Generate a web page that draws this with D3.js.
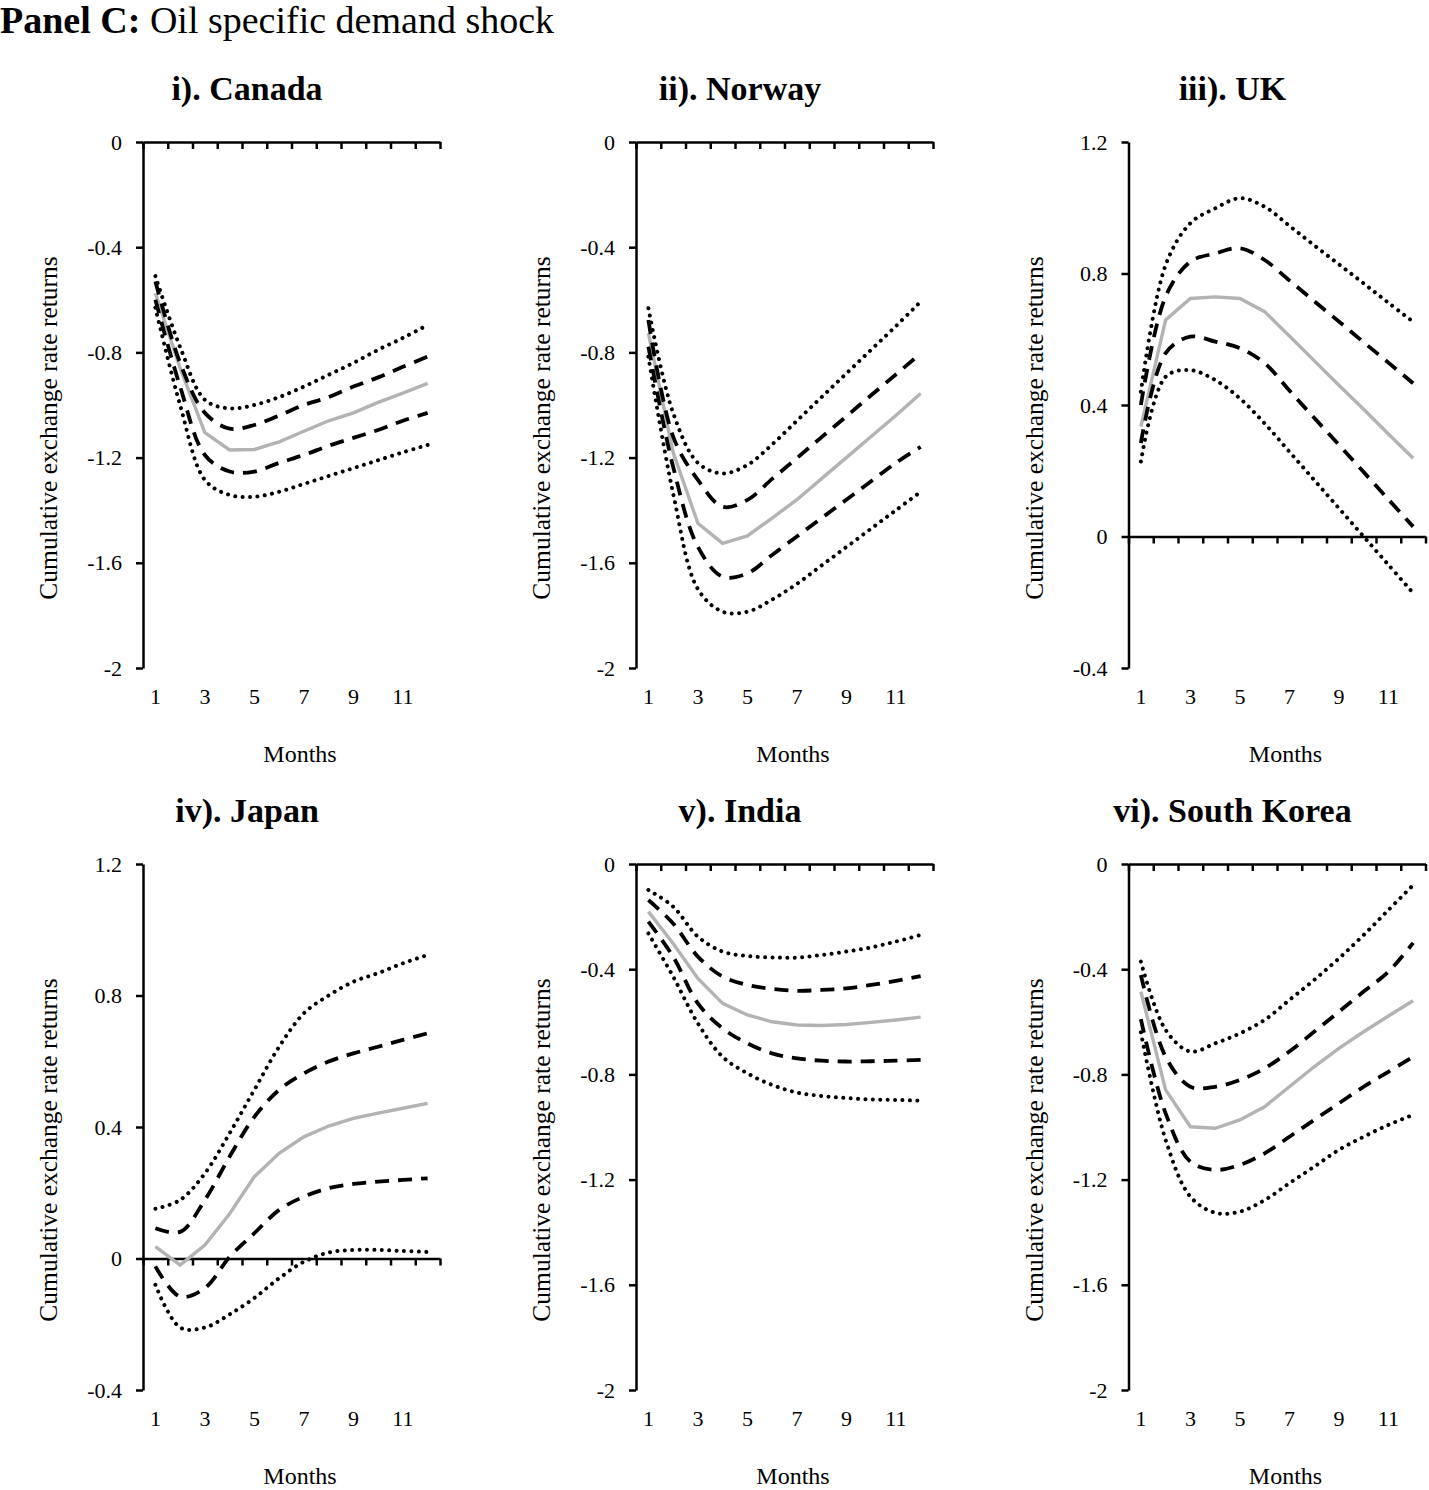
<!DOCTYPE html>
<html>
<head>
<meta charset="utf-8">
<script src="https://cdn.jsdelivr.net/npm/d3@7"></script>
<style>
  body { margin: 0; background: #fff; }
  svg { display: block; }
  text { font-family: "Liberation Serif", "Times New Roman", serif; fill: #000; }
</style>
</head>
<body>
<div id="chart"></div>
<script>
const months = [1, 2, 3, 4, 5, 6, 7, 8, 9, 10, 11, 12];
const monthLabels = [1, 3, 5, 7, 9, 11];

// rows: upper dotted, upper dashed, point estimate (grey), lower dashed, lower dotted
const canada = [
    [-0.51, -0.78, -0.98, -1.013, -1.0, -0.97, -0.93, -0.885, -0.84, -0.79, -0.745, -0.696],
    [-0.53, -0.84, -1.03, -1.09, -1.076, -1.04, -1.0, -0.97, -0.93, -0.895, -0.855, -0.816],
    [-0.575, -0.86, -1.105, -1.171, -1.169, -1.14, -1.10, -1.06, -1.03, -0.99, -0.955, -0.918],
    [-0.6, -0.93, -1.19, -1.253, -1.253, -1.22, -1.19, -1.155, -1.125, -1.095, -1.06, -1.03],
    [-0.63, -1.0, -1.285, -1.342, -1.349, -1.33, -1.30, -1.27, -1.24, -1.21, -1.18, -1.152]
];
const norway = [
    [-0.632, -1.03, -1.22, -1.26, -1.228, -1.15, -1.06, -0.97, -0.88, -0.79, -0.70, -0.607],
    [-0.677, -1.12, -1.285, -1.387, -1.361, -1.281, -1.202, -1.122, -1.043, -0.963, -0.884, -0.804],
    [-0.727, -1.18, -1.45, -1.526, -1.498, -1.43, -1.36, -1.28, -1.2, -1.12, -1.04, -0.956],
    [-0.778, -1.235, -1.539, -1.653, -1.64, -1.57, -1.5, -1.43, -1.36, -1.29, -1.22, -1.159],
    [-0.816, -1.336, -1.70, -1.786, -1.786, -1.74, -1.68, -1.61, -1.54, -1.47, -1.40, -1.33]
];
const uk = [
    [0.44, 0.826, 0.953, 0.998, 1.029, 1.003, 0.945, 0.886, 0.828, 0.770, 0.711, 0.653],
    [0.40, 0.73, 0.836, 0.861, 0.877, 0.841, 0.779, 0.716, 0.654, 0.591, 0.529, 0.466],
    [0.334, 0.659, 0.724, 0.729, 0.724, 0.684, 0.61, 0.535, 0.46, 0.387, 0.312, 0.238],
    [0.284, 0.558, 0.608, 0.593, 0.573, 0.527, 0.444, 0.361, 0.279, 0.196, 0.113, 0.03],
    [0.228, 0.486, 0.506, 0.476, 0.42, 0.344, 0.258, 0.172, 0.086, 0.0, -0.086, -0.172]
];
const japan = [
    [0.151, 0.178, 0.259, 0.381, 0.513, 0.644, 0.746, 0.80, 0.842, 0.868, 0.898, 0.923],
    [0.092, 0.081, 0.178, 0.31, 0.431, 0.513, 0.563, 0.599, 0.624, 0.644, 0.665, 0.685],
    [0.036, -0.02, 0.041, 0.136, 0.249, 0.32, 0.37, 0.403, 0.426, 0.442, 0.457, 0.472],
    [-0.024, -0.116, -0.09, 0.005, 0.077, 0.148, 0.188, 0.214, 0.227, 0.234, 0.239, 0.244],
    [-0.08, -0.21, -0.21, -0.17, -0.12, -0.06, -0.01, 0.018, 0.026, 0.026, 0.023, 0.02]
];
const india = [
    [-0.099, -0.162, -0.276, -0.333, -0.35, -0.355, -0.356, -0.346, -0.333, -0.317, -0.295, -0.27],
    [-0.137, -0.226, -0.352, -0.428, -0.46, -0.475, -0.482, -0.479, -0.473, -0.46, -0.444, -0.426],
    [-0.181, -0.302, -0.435, -0.53, -0.574, -0.6, -0.612, -0.614, -0.61, -0.602, -0.593, -0.582],
    [-0.219, -0.352, -0.53, -0.625, -0.682, -0.72, -0.739, -0.748, -0.751, -0.75, -0.748, -0.745],
    [-0.264, -0.428, -0.606, -0.733, -0.796, -0.84, -0.869, -0.882, -0.89, -0.895, -0.897, -0.9]
];
const southKorea = [
    [-0.371, -0.631, -0.713, -0.682, -0.644, -0.593, -0.517, -0.441, -0.359, -0.27, -0.175, -0.08],
    [-0.422, -0.733, -0.847, -0.847, -0.821, -0.777, -0.713, -0.638, -0.562, -0.485, -0.41, -0.30],
    [-0.485, -0.859, -0.999, -1.005, -0.973, -0.923, -0.847, -0.771, -0.701, -0.638, -0.578, -0.52],
    [-0.59, -0.948, -1.132, -1.163, -1.144, -1.1, -1.037, -0.973, -0.91, -0.847, -0.79, -0.733],
    [-0.64, -1.049, -1.265, -1.326, -1.322, -1.278, -1.214, -1.151, -1.087, -1.037, -0.992, -0.954]
];

const titles = ['i). Canada', 'ii). Norway', 'iii). UK', 'iv). Japan', 'v). India', 'vi). South Korea'];
const negTicks = [0, -0.4, -0.8, -1.2, -1.6, -2];
const posTicks = [1.2, 0.8, 0.4, 0, -0.4];

const panels = [
    { title: titles[0], data: canada, ticks: negTicks },
    { title: titles[1], data: norway, ticks: negTicks },
    { title: titles[2], data: uk, ticks: posTicks },
    { title: titles[3], data: japan, ticks: posTicks },
    { title: titles[4], data: india, ticks: negTicks },
    { title: titles[5], data: southKorea, ticks: negTicks }
];

let size = { width: 1429, height: 1490 };
let plotW = 297, plotH = 526;
let colX = [143, 636, 1128.5];
let rowY = [142, 864];

let svg = d3.select('#chart').append('svg')
    .attr('width', size.width)
    .attr('height', size.height);

let heading = svg.append('text')
    .attr('x', 0).attr('y', 33)
    .attr('font-size', 38);
heading.append('tspan').attr('font-weight', 'bold').text('Panel C:');
heading.append('tspan').text(' Oil specific demand shock');

let lineStyles = [
    { stroke: '#000', width: 4, dash: '0.01 7.4', cap: 'round' },
    { stroke: '#000', width: 3.8, dash: '14 9', cap: 'butt' },
    { stroke: '#b3b3b3', width: 3.4, dash: null, cap: 'butt' },
    { stroke: '#000', width: 3.8, dash: '14 9', cap: 'butt' },
    { stroke: '#000', width: 4, dash: '0.01 7.4', cap: 'round' }
];

panels.forEach((p, i) => {
    let x0 = colX[i % 3], y0 = rowY[Math.floor(i / 3)];
    let g = svg.append('g').attr('transform', `translate(${x0},${y0})`);

    let xScale = d3.scaleLinear().domain([0.5, 12.5]).range([0, plotW]);
    let yScale = d3.scaleLinear()
        .domain([d3.max(p.ticks), d3.min(p.ticks)])
        .range([0, plotH]);

    // title
    svg.append('text')
        .attr('x', x0 + 104).attr('y', y0 - 42)
        .attr('text-anchor', 'middle')
        .attr('font-size', 34).attr('font-weight', 'bold')
        .text(p.title);

    // y label
    svg.append('text')
        .attr('transform', `translate(${x0 - 86},${y0 + 286}) rotate(-90)`)
        .attr('text-anchor', 'middle')
        .attr('font-size', 25.5)
        .text('Cumulative exchange rate returns');

    // y axis
    let yAxis = g.append('g')
        .call(d3.axisLeft(yScale)
            .tickValues(p.ticks)
            .tickSize(7)
            .tickSizeOuter(0)
            .tickPadding(14)
            .tickFormat(d => String(d)));
    yAxis.select('.domain').attr('stroke-width', 2.5);
    yAxis.selectAll('.tick line').attr('stroke-width', 2.5);
    yAxis.selectAll('.tick text')
        .attr('font-family', '"Liberation Serif", serif')
        .attr('font-size', 22);

    // x axis at zero, ticks at category boundaries
    let boundaries = [0].concat(months).map(m => m + 0.5);
    let xAxis = g.append('g')
        .attr('transform', `translate(0,${yScale(0)})`)
        .call(d3.axisBottom(xScale)
            .tickValues(boundaries)
            .tickSize(7)
            .tickSizeOuter(0)
            .tickFormat(''));
    xAxis.select('.domain').attr('stroke-width', 2.5);
    xAxis.selectAll('.tick line').attr('stroke-width', 2.5);

    // month labels at bottom
    g.selectAll('.month-label')
        .data(monthLabels)
        .enter().append('text')
        .attr('class', 'month-label')
        .attr('x', d => xScale(d))
        .attr('y', plotH + 36)
        .attr('text-anchor', 'middle')
        .attr('font-size', 22)
        .text(d => d);

    g.append('text')
        .attr('x', 157).attr('y', plotH + 94)
        .attr('text-anchor', 'middle')
        .attr('font-size', 24)
        .text('Months');

    let smooth = d3.line()
        .x((d, k) => xScale(months[k]))
        .y(d => yScale(d))
        .curve(d3.curveCatmullRom.alpha(0.5));
    let straight = d3.line()
        .x((d, k) => xScale(months[k]))
        .y(d => yScale(d));

    [2, 1, 3, 0, 4].forEach(k => {
        let st = lineStyles[k];
        g.append('path')
            .attr('d', (k === 2 ? straight : smooth)(p.data[k]))
            .attr('fill', 'none')
            .attr('stroke', st.stroke)
            .attr('stroke-width', st.width)
            .attr('stroke-dasharray', st.dash)
            .attr('stroke-linecap', st.cap);
    });
});
</script>
</body>
</html>
